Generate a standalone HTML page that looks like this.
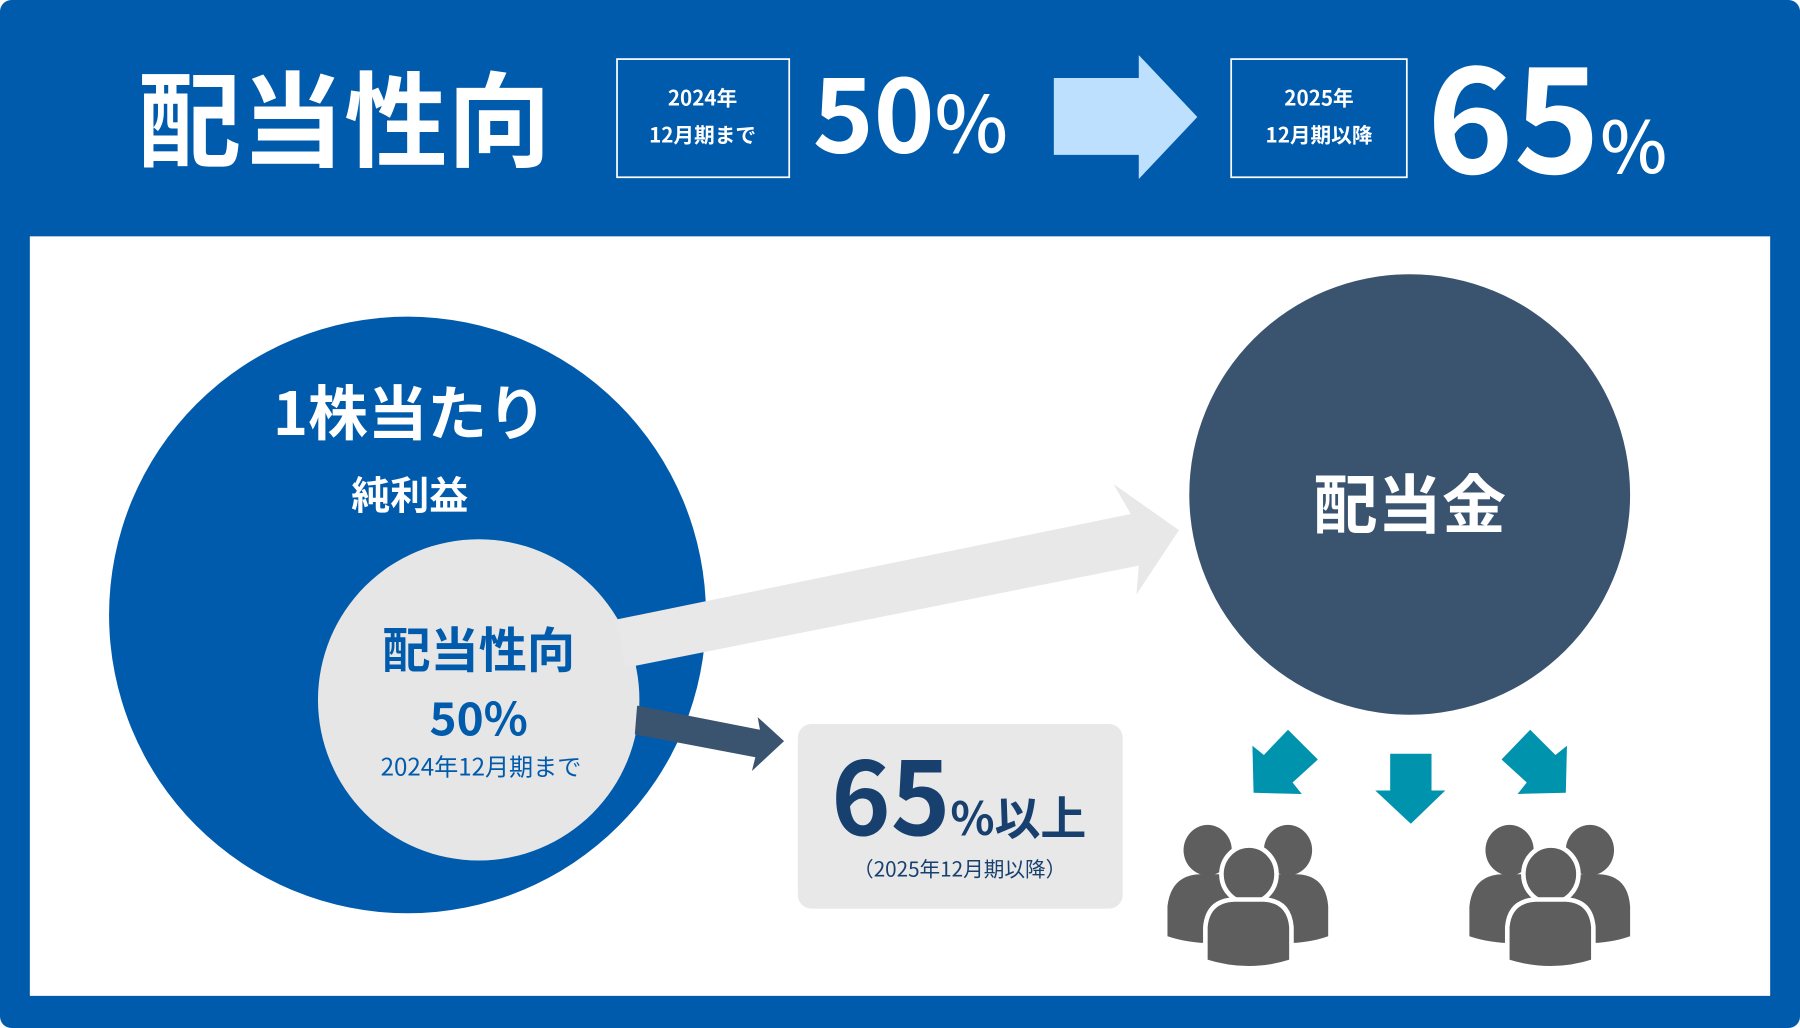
<!DOCTYPE html>
<html><head><meta charset="utf-8"><style>
html,body{margin:0;padding:0;background:#fff;}
svg{display:block;font-family:"Liberation Sans","Noto Sans CJK JP",sans-serif;}
.j{font-family:"Noto Sans CJK JP","Liberation Sans",sans-serif;font-weight:700;}
</style></head><body>
<svg width="1800" height="1028" viewBox="0 0 1568 896" preserveAspectRatio="none" xmlns="http://www.w3.org/2000/svg">
<rect x="0" y="0" width="1568" height="896" rx="10" fill="#005bac"/>
<rect x="26" y="206" width="1516" height="662" fill="#ffffff"/>
<text class="j" x="120" y="138" font-size="90" fill="#fff">配当性向</text>
<rect x="537.5" y="51.5" width="150" height="103" fill="none" stroke="#fff" stroke-width="1.5"/>
<text class="j" x="612" y="92" font-size="18" fill="#fff" text-anchor="middle">2024年</text>
<text class="j" x="612" y="124" font-size="18" fill="#fff" text-anchor="middle">12月期まで</text>
<text class="j" x="708" y="133" font-size="90" fill="#fff">50<tspan font-size="68" font-weight="500">%</tspan></text>
<polygon points="918,68 992,68 992,48 1043,102 992,156 992,135 918,135" fill="#bde0fe"/>
<rect x="1072.5" y="51.5" width="153" height="103" fill="none" stroke="#fff" stroke-width="1.5"/>
<text class="j" x="1149" y="92" font-size="18" fill="#fff" text-anchor="middle">2025年</text>
<text class="j" x="1149" y="124" font-size="18" fill="#fff" text-anchor="middle">12月期以降</text>
<text class="j" x="1243" y="151" font-size="128" fill="#fff">65<tspan font-size="62" font-weight="500">%</tspan></text>

<circle cx="355" cy="536" r="260" fill="#005bac"/>
<text class="j" x="357" y="379" font-size="52" fill="#fff" text-anchor="middle">1株当たり</text>
<text class="j" x="357" y="444" font-size="34" fill="#fff" text-anchor="middle">純利益</text>
<circle cx="417" cy="610" r="140" fill="#e6e6e6"/>
<polygon points="537,540 985,448 970,422 1027,462 990,518 992,493 545,582" fill="#e8e8e8"/>
<text class="j" x="417" y="582" font-size="42" fill="#005bac" text-anchor="middle">配当性向</text>
<text class="j" x="417" y="641" font-size="40" fill="#005bac" text-anchor="middle">50%</text>
<text x="419" y="676" font-size="21" fill="#005bac" text-anchor="middle" font-family="Noto Sans CJK JP, sans-serif">2024年12月期まで</text>
<polygon points="555,615 662,636 660,625 683,646 655,672 658,660 553,640" fill="#3a5470"/>
<rect x="695" y="631" width="283" height="161" rx="12" fill="#e8e8e8"/>
<text class="j" x="724" y="728" font-size="88" fill="#17406f">65<tspan font-size="40">%以上</tspan></text>
<text x="836" y="764" font-size="18" fill="#17406f" text-anchor="middle" font-family="Noto Sans CJK JP, sans-serif">（2025年12月期以降）</text>

<circle cx="1228" cy="431" r="192" fill="#3a5470"/>
<text class="j" x="1228" y="460" font-size="56" fill="#fff" text-anchor="middle">配当金</text>

<g fill="#0093ad">
<polygon points="1122,636 1148,662 1126,682 1134,692 1092,691 1091,650 1101,658"/>
<polygon points="1211,657 1247,657 1247,689 1259,689 1229,718 1198,689 1211,689"/>
<polygon points="1333,636 1308,662 1330,682 1322,692 1364,691 1365,650 1355,658"/>
</g>
<defs>
<g id="ppl">
<ellipse cx="1052" cy="741" rx="21" ry="22" fill="#5e5e5e"/>
<ellipse cx="1122" cy="741" rx="21" ry="22" fill="#5e5e5e"/>
<path d="M1017,816 L1017,790 Q1020,763 1045,762 L1075,762 L1100,762 L1130,762 Q1155,763 1157,790 L1157,816 Q1140,822 1120,822 L1055,822 Q1035,822 1017,816 Z" fill="#5e5e5e"/>
<ellipse cx="1088" cy="762" rx="24" ry="25" fill="#5e5e5e" stroke="#fff" stroke-width="4"/>
<path d="M1050,838 L1050,808 Q1052,785 1075,784 L1101,784 Q1123,785 1125,808 L1125,838 Q1088,850 1050,838 Z" fill="#5e5e5e" stroke="#fff" stroke-width="4"/>
</g>
</defs>
<use href="#ppl"/>
<use href="#ppl" transform="translate(263,0)"/>
</svg>
</body></html>
